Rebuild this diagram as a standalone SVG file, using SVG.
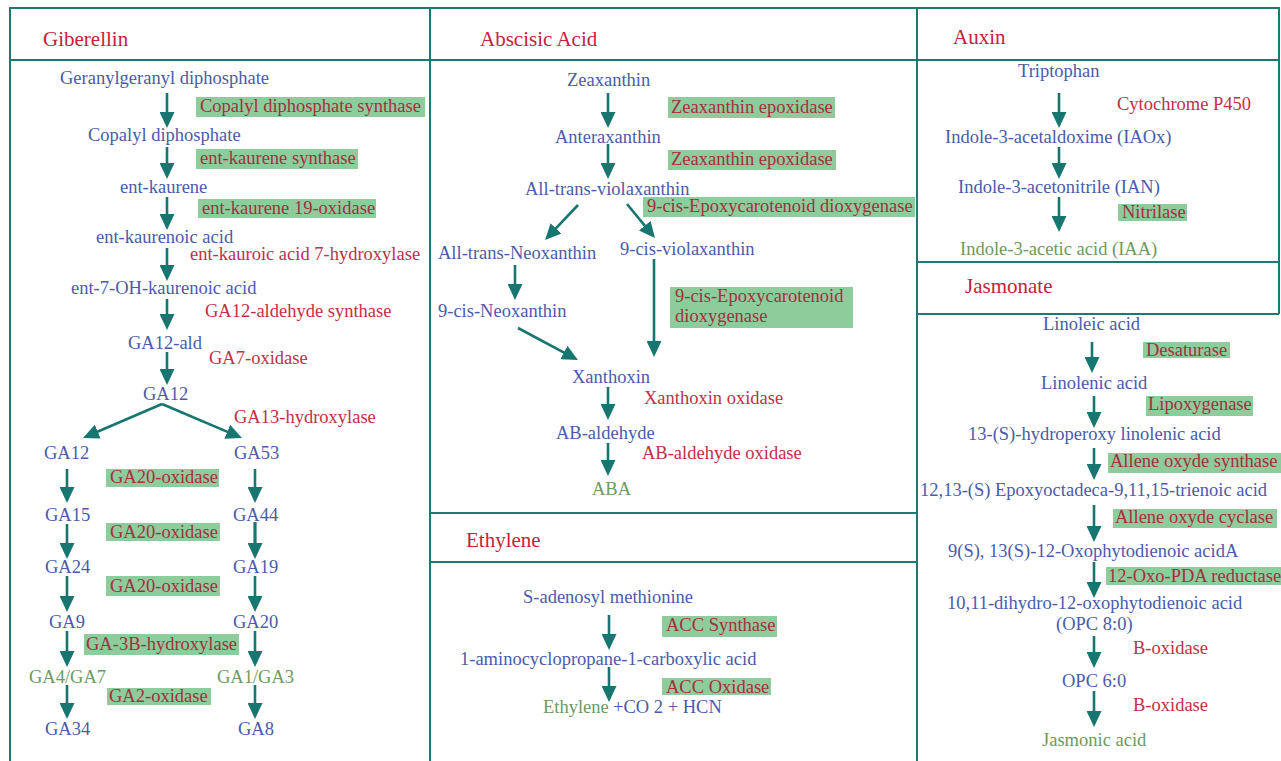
<svg xmlns="http://www.w3.org/2000/svg" width="1281" height="761" viewBox="0 0 1281 761">
<style>
text{font-family:"Liberation Serif","Times New Roman",serif;font-size:18.5px}
.m{fill:#4a5bab}
.p{fill:#6b9b5e}
.e{fill:#c22f48}
.eb{fill:#a3303c}
.h{font-size:21px;fill:#c4213d}
.bx{fill:#8fcc9c}
.ln{stroke:#17766f;stroke-width:2.6;fill:none;marker-end:url(#ah)}
.fr{stroke:#1d7a72;stroke-width:2;fill:none}
</style>
<defs>
<marker id="ah" markerUnits="userSpaceOnUse" markerWidth="16" markerHeight="15" refX="6" refY="7.5" orient="auto" viewBox="0 0 16 15">
<path d="M0,0 L16,7.5 L0,15 z" fill="#17766f"/>
</marker>
</defs>
<rect width="1281" height="761" fill="#fff"/>
<g id="frame">
<path class="fr" d="M10,761 V8 H1279 V314 M10,60 H1279 M430,8 V761 M917,8 V761 M430,513 H917 M430,562 H917 M917,262 H1279 M917,314 H1279"/>
</g>
<g id="titles">
<text class="h" x="43" y="46">Giberellin</text>
<text class="h" x="480" y="46">Abscisic Acid</text>
<text class="h" x="953" y="44">Auxin</text>
<text class="h" x="965" y="293">Jasmonate</text>
<text class="h" x="466" y="547">Ethylene</text>
</g>
<g id="connectors">
<line class="ln" x1="167" y1="93" x2="167" y2="118"/>
<line class="ln" x1="167" y1="147" x2="167" y2="169"/>
<line class="ln" x1="167" y1="197" x2="167" y2="220"/>
<line class="ln" x1="167" y1="248" x2="167" y2="271"/>
<line class="ln" x1="167" y1="299" x2="167" y2="320"/>
<line class="ln" x1="167" y1="352" x2="167" y2="375"/>
<line class="ln" x1="162" y1="404" x2="92.2" y2="434"/>
<line class="ln" x1="162" y1="404" x2="232.8" y2="434.1"/>
<line class="ln" x1="67" y1="469" x2="67" y2="493"/>
<line class="ln" x1="67" y1="524" x2="67" y2="549"/>
<line class="ln" x1="67" y1="576" x2="67" y2="602"/>
<line class="ln" x1="67" y1="631" x2="67" y2="657"/>
<line class="ln" x1="67" y1="685" x2="67" y2="709"/>
<line class="ln" x1="255" y1="469" x2="255" y2="493"/>
<line class="ln" x1="255" y1="522" x2="255" y2="549" style="stroke-width:3.2"/>
<line class="ln" x1="255" y1="576" x2="255" y2="602"/>
<line class="ln" x1="255" y1="631" x2="255" y2="657"/>
<line class="ln" x1="255" y1="685" x2="255" y2="709"/>
<line class="ln" x1="608" y1="93" x2="608" y2="118"/>
<line class="ln" x1="608" y1="144" x2="608" y2="169"/>
<line class="ln" x1="578" y1="205" x2="551.9" y2="232.7"/>
<line class="ln" x1="627" y1="204" x2="648.6" y2="230.3"/>
<line class="ln" x1="515" y1="265" x2="515" y2="290"/>
<line class="ln" x1="518" y1="328" x2="569.2" y2="355.3"/>
<line class="ln" x1="654" y1="259" x2="654" y2="347"/>
<line class="ln" x1="608" y1="387" x2="608" y2="410"/>
<line class="ln" x1="608" y1="443" x2="608" y2="466"/>
<line class="ln" x1="609" y1="615" x2="609" y2="640"/>
<line class="ln" x1="609" y1="667" x2="609" y2="692"/>
<line class="ln" x1="1059" y1="93" x2="1059" y2="118"/>
<line class="ln" x1="1059" y1="147" x2="1059" y2="169"/>
<line class="ln" x1="1059" y1="197" x2="1059" y2="222"/>
<line class="ln" x1="1092" y1="342" x2="1092" y2="363"/>
<line class="ln" x1="1094" y1="396" x2="1094" y2="418"/>
<line class="ln" x1="1094" y1="448" x2="1094" y2="470"/>
<line class="ln" x1="1094" y1="505" x2="1094" y2="532"/>
<line class="ln" x1="1094" y1="562" x2="1094" y2="588"/>
<line class="ln" x1="1094" y1="636" x2="1094" y2="658"/>
<line class="ln" x1="1094" y1="691" x2="1094" y2="717"/>
</g>
<g id="giberellin">
<g id="n-ggpp"><text class="m" x="60" y="84">Geranylgeranyl diphosphate</text></g>
<g id="e-cps"><rect class="bx" x="196" y="97" width="229" height="20"/><text class="eb" x="200" y="112">Copalyl diphosphate synthase</text></g>
<g id="n-cpp"><text class="m" x="88" y="141">Copalyl diphosphate</text></g>
<g id="e-ks"><rect class="bx" x="196" y="149" width="162" height="20"/><text class="eb" x="200" y="164">ent-kaurene synthase</text></g>
<g id="n-ek"><text class="m" x="120" y="193">ent-kaurene</text></g>
<g id="e-ko"><rect class="bx" x="198" y="199" width="178" height="19"/><text class="eb" x="202" y="214">ent-kaurene 19-oxidase</text></g>
<g id="n-eka"><text class="m" x="96" y="243">ent-kaurenoic acid</text></g>
<g id="e-kao"><text class="e" x="190" y="260">ent-kauroic acid 7-hydroxylase</text></g>
<g id="n-7oh"><text class="m" x="71" y="294">ent-7-OH-kaurenoic acid</text></g>
<g id="e-ga12as"><text class="e" x="205" y="317">GA12-aldehyde synthase</text></g>
<g id="n-ga12ald"><text class="m" x="128" y="349">GA12-ald</text></g>
<g id="e-ga7ox"><text class="e" x="209" y="364">GA7-oxidase</text></g>
<g id="n-ga12"><text class="m" x="143" y="400">GA12</text></g>
<g id="e-ga13h"><text class="e" x="234" y="423">GA13-hydroxylase</text></g>
<g id="n-ga12b"><text class="m" x="44" y="459">GA12</text></g>
<g id="n-ga53"><text class="m" x="234" y="459">GA53</text></g>
<g id="e-ga20a"><rect class="bx" x="106" y="469" width="113" height="18"/><text class="eb" x="110" y="483">GA20-oxidase</text></g>
<g id="n-ga15"><text class="m" x="45" y="521">GA15</text></g>
<g id="n-ga44"><text class="m" x="233" y="521">GA44</text></g>
<g id="e-ga20b"><rect class="bx" x="106" y="523" width="114" height="18"/><text class="eb" x="110" y="538">GA20-oxidase</text></g>
<g id="n-ga24"><text class="m" x="45" y="573">GA24</text></g>
<g id="n-ga19"><text class="m" x="233" y="573">GA19</text></g>
<g id="e-ga20c"><rect class="bx" x="106" y="576" width="114" height="20"/><text class="eb" x="110" y="592">GA20-oxidase</text></g>
<g id="n-ga9"><text class="m" x="49" y="628">GA9</text></g>
<g id="n-ga20"><text class="m" x="233" y="628">GA20</text></g>
<g id="e-ga3b"><rect class="bx" x="84" y="634" width="155" height="21"/><text class="eb" x="86" y="650">GA-3B-hydroxylase</text></g>
<g id="n-ga4"><text class="p" x="29" y="683">GA4/GA7</text></g>
<g id="n-ga1"><text class="p" x="217" y="683">GA1/GA3</text></g>
<g id="e-ga2"><rect class="bx" x="107" y="688" width="104" height="17"/><text class="eb" x="109" y="702">GA2-oxidase</text></g>
<g id="n-ga34"><text class="m" x="45" y="735">GA34</text></g>
<g id="n-ga8"><text class="m" x="238" y="735">GA8</text></g>
</g>
<g id="abscisic">
<g id="n-zea"><text class="m" x="567" y="86">Zeaxanthin</text></g>
<g id="e-zep1"><rect class="bx" x="668" y="97" width="167" height="21"/><text class="eb" x="671" y="113">Zeaxanthin epoxidase</text></g>
<g id="n-ant"><text class="m" x="555" y="143">Anteraxanthin</text></g>
<g id="e-zep2"><rect class="bx" x="668" y="150" width="168" height="20"/><text class="eb" x="671" y="165">Zeaxanthin epoxidase</text></g>
<g id="n-vio"><text class="m" x="525" y="195">All-trans-violaxanthin</text></g>
<g id="e-nced1"><rect class="bx" x="643" y="197" width="272" height="20"/><text class="eb" x="647" y="212">9-cis-Epoxycarotenoid dioxygenase</text></g>
<g id="n-neo"><text class="m" x="438" y="259">All-trans-Neoxanthin</text></g>
<g id="n-9cv"><text class="m" x="620" y="255">9-cis-violaxanthin</text></g>
<g id="n-9cn"><text class="m" x="438" y="317">9-cis-Neoxanthin</text></g>
<g id="e-nced2"><rect class="bx" x="670" y="287" width="183" height="41"/><text class="eb" x="675" y="302">9-cis-Epoxycarotenoid</text><text class="eb" x="675" y="322">dioxygenase</text></g>
<g id="n-xan"><text class="m" x="572" y="383">Xanthoxin</text></g>
<g id="e-xo"><text class="e" x="644" y="404">Xanthoxin oxidase</text></g>
<g id="n-abald"><text class="m" x="556" y="439">AB-aldehyde</text></g>
<g id="e-abao"><text class="e" x="642" y="459">AB-aldehyde oxidase</text></g>
<g id="n-aba"><text class="p" x="592" y="495">ABA</text></g>
</g>
<g id="ethylene">
<g id="n-sam"><text class="m" x="523" y="603">S-adenosyl methionine</text></g>
<g id="e-accs"><rect class="bx" x="662" y="616" width="115" height="21"/><text class="eb" x="666" y="631">ACC Synthase</text></g>
<g id="n-acc"><text class="m" x="460" y="665">1-aminocyclopropane-1-carboxylic acid</text></g>
<g id="e-acco"><rect class="bx" x="662" y="678" width="109" height="17"/><text class="eb" x="666" y="693">ACC Oxidase</text></g>
<g id="n-eth"><text class="p" x="543" y="713">Ethylene</text><text class="m" x="613" y="713">+CO 2 + HCN</text></g>
</g>
<g id="auxin">
<g id="n-trp"><text class="m" x="1018" y="77">Triptophan</text></g>
<g id="e-cyp"><text class="e" x="1117" y="110">Cytochrome P450</text></g>
<g id="n-iaox"><text class="m" x="945" y="143">Indole-3-acetaldoxime (IAOx)</text></g>
<g id="n-ian"><text class="m" x="958" y="193">Indole-3-acetonitrile (IAN)</text></g>
<g id="e-nit"><rect class="bx" x="1118" y="204" width="69" height="17"/><text class="eb" x="1122" y="218">Nitrilase</text></g>
<g id="n-iaa"><text class="p" x="960" y="255">Indole-3-acetic acid (IAA)</text></g>
</g>
<g id="jasmonate">
<g id="n-la"><text class="m" x="1043" y="330">Linoleic acid</text></g>
<g id="e-des"><rect class="bx" x="1143" y="342" width="87" height="16"/><text class="eb" x="1146" y="356">Desaturase</text></g>
<g id="n-lna"><text class="m" x="1041" y="389">Linolenic acid</text></g>
<g id="e-lox"><rect class="bx" x="1146" y="396" width="107" height="20"/><text class="eb" x="1148" y="410">Lipoxygenase</text></g>
<g id="n-hpot"><text class="m" x="968" y="440">13-(S)-hydroperoxy linolenic acid</text></g>
<g id="e-aos"><rect class="bx" x="1108" y="453" width="173" height="20"/><text class="eb" x="1110" y="467">Allene oxyde synthase</text></g>
<g id="n-eot"><text class="m" x="920" y="496">12,13-(S) Epoxyoctadeca-9,11,15-trienoic acid</text></g>
<g id="e-aoc"><rect class="bx" x="1113" y="509" width="164" height="19"/><text class="eb" x="1115" y="523">Allene oxyde cyclase</text></g>
<g id="n-opda"><text class="m" x="948" y="557">9(S), 13(S)-12-Oxophytodienoic acidA</text></g>
<g id="e-opr"><rect class="bx" x="1106" y="567" width="175" height="18"/><text class="eb" x="1108" y="582">12-Oxo-PDA reductase</text></g>
<g id="n-opc8"><text class="m" x="947" y="609">10,11-dihydro-12-oxophytodienoic acid</text><text class="m" x="1056" y="630">(OPC 8:0)</text></g>
<g id="e-box1"><text class="e" x="1133" y="654">B-oxidase</text></g>
<g id="n-opc6"><text class="m" x="1062" y="687">OPC 6:0</text></g>
<g id="e-box2"><text class="e" x="1133" y="711">B-oxidase</text></g>
<g id="n-ja"><text class="p" x="1042" y="746">Jasmonic acid</text></g>
</g>
</svg>
